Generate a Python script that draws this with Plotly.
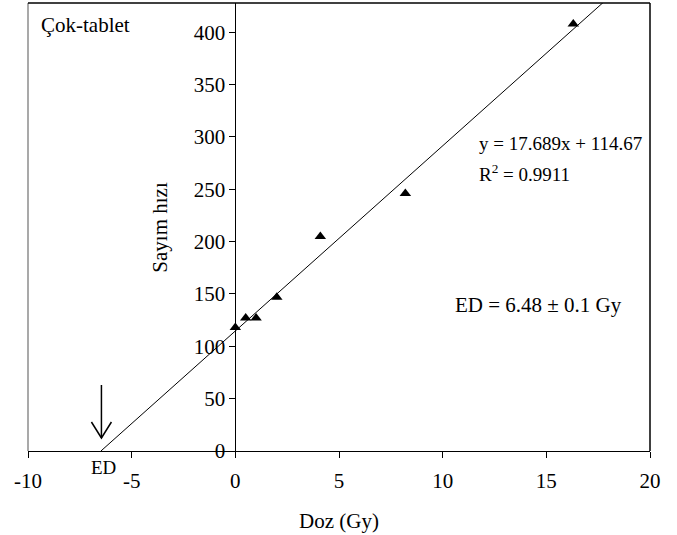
import plotly.graph_objects as go

# ---- data ----
dose = [0, 0.5, 1, 2, 4.1, 8.2, 16.3]
count_rate = [118, 127, 127, 147, 205, 246, 408]
slope = 17.689
intercept = 114.67
r2 = 0.9911
ed_value = 6.48
ed_err = 0.1
x_ticks = [-10, -5, 0, 5, 10, 15, 20]
x_tick_text = ["-10", "-5", "0", "5", "10", "15", "20"]
y_ticks = [0, 50, 100, 150, 200, 250, 300, 350, 400]
x_range = [-10, 20]
y_range = [0, 428]

FONT = "Liberation Serif"
ed_x = -intercept / slope

fig = go.Figure()

# regression line from the x-intercept (ED) upward, clipped by the axes
line_x = [ed_x, x_range[1]]
line_y = [slope * v + intercept for v in line_x]
fig.add_trace(go.Scatter(x=line_x, y=line_y, mode="lines",
                         line=dict(color="black", width=1), hoverinfo="skip",
                         showlegend=False))

fig.add_trace(go.Scatter(x=dose, y=count_rate, mode="markers",
                         marker=dict(symbol="triangle-up", size=10, color="black"),
                         showlegend=False, cliponaxis=False))

tickfont = dict(family=FONT, size=21, color="black")

fig.update_layout(
    width=677, height=535,
    margin=dict(l=28, r=27, t=3, b=84),
    paper_bgcolor="white", plot_bgcolor="white",
    font=dict(family=FONT, size=21, color="black"),
    xaxis=dict(range=x_range, tickvals=x_ticks, ticktext=x_tick_text,
               ticks="outside", ticklen=6,
               tickcolor="black", tickwidth=1,
               showline=True, linecolor="black", linewidth=1,
               showgrid=False, zeroline=False, tickfont=tickfont,
               ticklabelstandoff=5),
    yaxis=dict(range=y_range, tickvals=y_ticks, ticks="outside", ticklen=6,
               tickcolor="black", tickwidth=1,
               anchor="free", position=(0 - x_range[0]) / (x_range[1] - x_range[0]),
               showline=True, linecolor="black", linewidth=1,
               showgrid=False, zeroline=False, tickfont=tickfont,
               ticklabelstandoff=0),
)

# plot-area frame (left grey, top and right black)
fig.add_shape(type="line", xref="paper", yref="paper", x0=0, x1=0, y0=0, y1=1,
              line=dict(color="#8c8c8c", width=1.5))
fig.add_shape(type="line", xref="paper", yref="paper", x0=0, x1=1, y0=1, y1=1,
              line=dict(color="black", width=1.5))
fig.add_shape(type="line", xref="paper", yref="paper", x0=1, x1=1, y0=0, y1=1,
              line=dict(color="black", width=1.5))

# ED arrow (pixel-sized, anchored at the x-intercept)
fig.add_shape(type="line", xref="x", yref="y", xsizemode="pixel", ysizemode="pixel",
              xanchor=ed_x, yanchor=0, x0=0.5, x1=0.5, y0=13, y1=66,
              line=dict(color="black", width=1.5))
fig.add_shape(type="path", xref="x", yref="y", xsizemode="pixel", ysizemode="pixel",
              xanchor=ed_x, yanchor=0, path="M -9.5 29 L 0.5 13 L 10.5 29",
              line=dict(color="black", width=1.5))

ann = [
    dict(text="Çok-tablet", x=-9.45, y=407, xanchor="left", yanchor="middle"),
    dict(text="Sayım hızı", x=-3.65, y=214, textangle=-90, xanchor="center", yanchor="middle"),
    dict(text=f"y = {slope}x + {intercept}", x=11.67, y=294, xanchor="left", yanchor="middle",
         font=dict(size=19)),
    dict(text=f"R<sup>2</sup> = {r2}", x=11.67, y=266, xanchor="left", yanchor="middle",
         font=dict(size=19)),
    dict(text=f"ED = {ed_value} ± {ed_err} Gy", x=10.5, y=139.5, xanchor="left", yanchor="middle"),
]
for a in ann:
    fig.add_annotation(xref="x", yref="y", showarrow=False, **a)

ed_paper = (ed_x - x_range[0]) / (x_range[1] - x_range[0])
fig.add_annotation(xref="paper", yref="paper", x=0.5, y=-0.156, text="Doz (Gy)",
                   showarrow=False, xanchor="center", yanchor="middle")
fig.add_annotation(xref="paper", yref="paper", x=ed_paper, y=-0.036, xshift=2.5, text="ED",
                   showarrow=False, xanchor="center", yanchor="middle", font=dict(size=19))

fig.write_html("out.html")
